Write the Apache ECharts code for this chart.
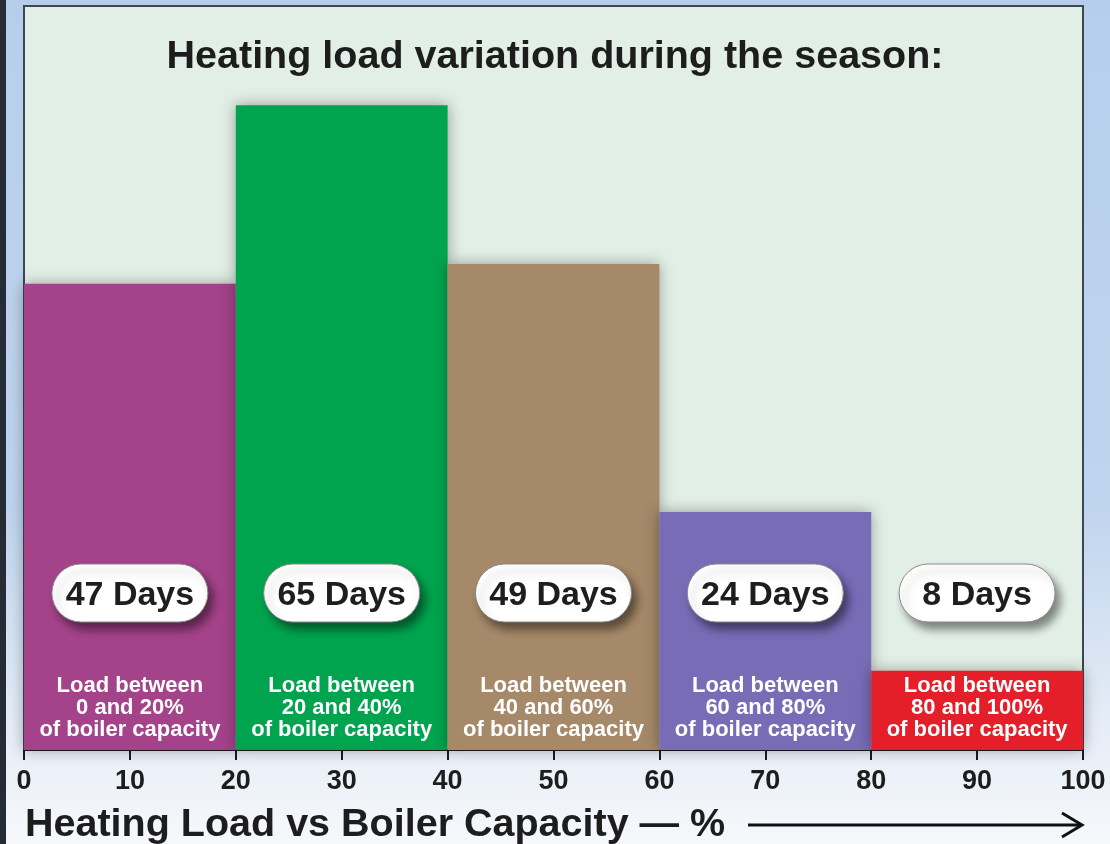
<!DOCTYPE html>
<html>
<head>
<meta charset="utf-8">
<title>Heating load variation during the season</title>
<script src="https://cdn.jsdelivr.net/npm/echarts@6/dist/echarts.min.js"></script>
<style>
  html, body { margin: 0; padding: 0; }
  #wrap {
    position: relative;
    width: 1110px;
    height: 844px;
    background: linear-gradient(to bottom, #b6ceec 0%, #bfd4ee 60%, #e4ecf6 85%, #f6f8fb 100%);
  }
  #wrap::before {
    content: '';
    position: absolute;
    left: 0; top: 0; bottom: 0;
    width: 6px;
    background: #252c35;
  }
  #chart { position: absolute; left: 0; top: 0; width: 1110px; height: 844px; }
</style>
</head>
<body>
<div id="wrap"><div id="chart"></div></div>
<script>
// load ranges (% of boiler capacity) and days in each range
const loadFrom = [0, 20, 40, 60, 80]
const loadTo = [20, 40, 60, 80, 100]
const days = [47, 65, 49, 24, 8]
const rangeText = ['0 and 20%', '20 and 40%', '40 and 60%', '60 and 80%', '80 and 100%']
const xTicks = [0, 10, 20, 30, 40, 50, 60, 70, 80, 90, 100]

const barColors = ['#a4428a', '#00a44f', '#a68969', '#786cb7', '#e51f2a']
const FONT = '"Liberation Sans", Arial, Helvetica, sans-serif'

const seriesData = days.map((d, i) => [loadFrom[i], loadTo[i], d, i])

const chart = echarts.init(document.getElementById('chart'))

const renderItem = (params, api) => {
  const i = api.value(3)
  const top = api.coord([api.value(0), api.value(2)])
  const bottom = api.coord([api.value(1), 0])
  const cx = (top[0] + bottom[0]) / 2
  const base = bottom[1]
  const pillW = 156
  const pillH = 58
  const pillY = base - 157 - pillH / 2

  return {
    type: 'group',
    children: [
      {
        type: 'rect',
        z2: 1,
        shape: { x: top[0], y: top[1], width: bottom[0] - top[0], height: base - top[1] },
        style: {
          fill: barColors[i],
          shadowBlur: 14,
          shadowColor: 'rgba(0,0,0,0.35)'
        }
      },
      {
        type: 'text',
        z2: 10,
        style: {
          text: 'Load between\n' + rangeText[i] + '\nof boiler capacity',
          x: cx,
          y: base - 9,
          align: 'center',
          verticalAlign: 'bottom',
          fontFamily: FONT,
          fontSize: 22,
          fontWeight: 'bold',
          lineHeight: 22,
          fill: '#ffffff'
        }
      },
      {
        type: 'rect',
        z2: 20,
        shape: { x: cx - pillW / 2, y: pillY, width: pillW, height: pillH, r: pillH / 2 },
        style: {
          fill: '#ffffff',
          stroke: '#8a8a8a',
          lineWidth: 1,
          shadowBlur: 8,
          shadowOffsetX: 5,
          shadowOffsetY: 7,
          shadowColor: 'rgba(0,0,0,0.45)'
        }
      },
      {
        type: 'text',
        z2: 21,
        style: {
          text: days[i] + ' Days',
          x: cx,
          y: pillY + pillH / 2 + 3,
          align: 'center',
          verticalAlign: 'middle',
          fontFamily: FONT,
          fontSize: 34,
          fontWeight: 'bold',
          fill: '#1e1e1e'
        }
      }
    ]
  }
}

const option = {
  animation: false,
  title: [
    {
      text: 'Heating load variation during the season:',
      left: 'center',
      top: 37,
      padding: 0,
      textStyle: { fontFamily: FONT, fontSize: 39.5, fontWeight: 'bold', color: '#1d1d1d' }
    },
    {
      text: 'Heating Load vs Boiler Capacity — %',
      left: 25,
      top: 805,
      padding: 0,
      textStyle: { fontFamily: FONT, fontSize: 39.5, fontWeight: 'bold', color: '#1d1d1d' }
    }
  ],
  grid: {
    left: 24,
    right: 27,
    top: 6,
    bottom: 94,
    show: true,
    backgroundColor: '#e2efe6',
    borderColor: '#3d4652',
    borderWidth: 2
  },
  xAxis: {
    type: 'value',
    min: xTicks[0],
    max: xTicks[xTicks.length - 1],
    interval: xTicks[1] - xTicks[0],
    axisLine: { show: true, lineStyle: { color: '#1c1c1c', width: 2 } },
    axisTick: { show: true, length: 10, lineStyle: { color: '#1c1c1c', width: 2 } },
    axisLabel: {
      margin: 18,
      fontFamily: FONT,
      fontSize: 27,
      fontWeight: 'bold',
      color: '#1d1d1d'
    },
    splitLine: { show: false }
  },
  yAxis: {
    type: 'value',
    min: 0,
    max: 75,
    show: false
  },
  graphic: [
    {
      type: 'line',
      shape: { x1: 748, y1: 825, x2: 1080, y2: 825 },
      style: { stroke: '#111', lineWidth: 3 }
    },
    {
      type: 'polyline',
      shape: { points: [[1062, 813], [1082, 825], [1062, 837]] },
      style: { stroke: '#111', lineWidth: 3, fill: null }
    }
  ],
  series: [
    {
      type: 'custom',
      renderItem: renderItem,
      data: seriesData,
      encode: { x: [0, 1], y: 2 }
    }
  ]
}

chart.setOption(option)
</script>
</body>
</html>
